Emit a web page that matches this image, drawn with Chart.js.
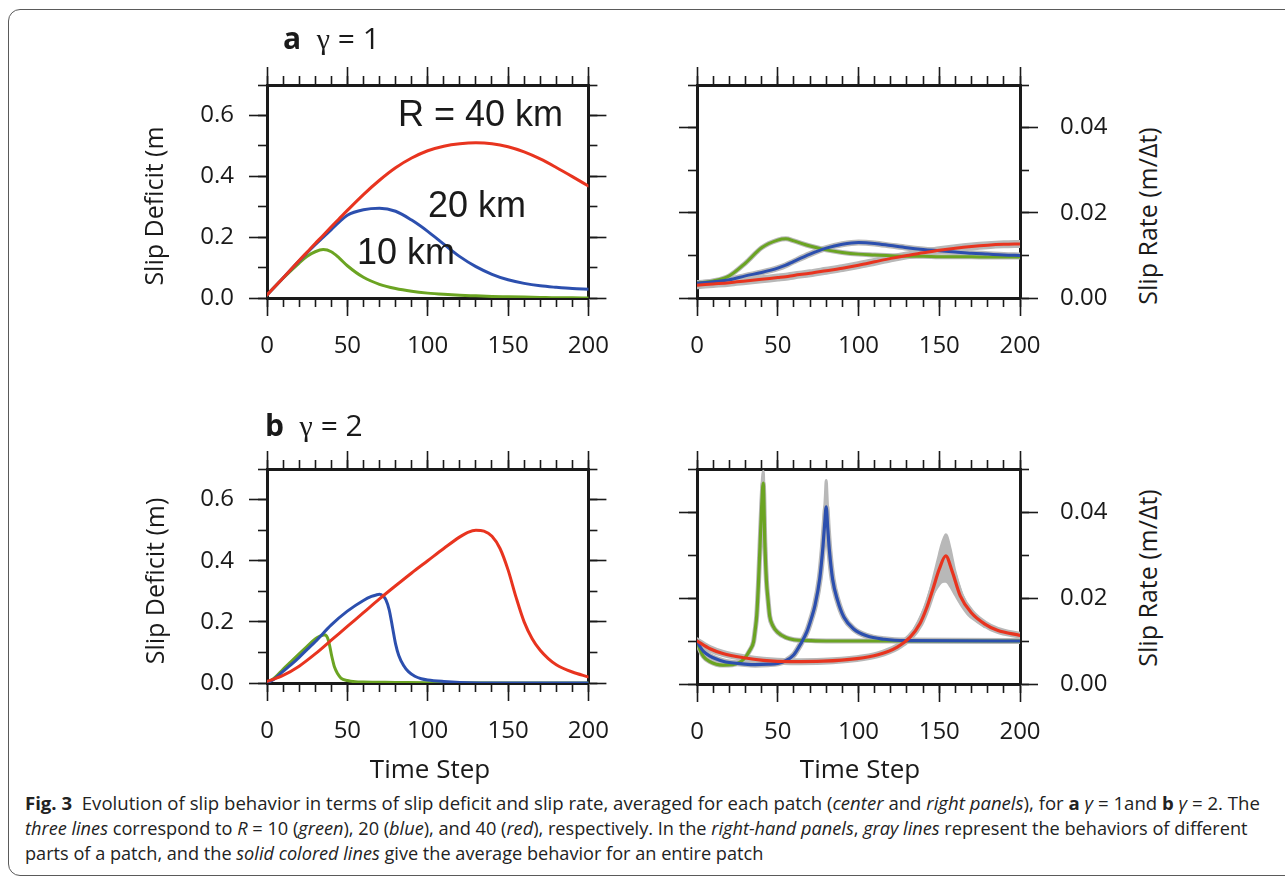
<!DOCTYPE html>
<html lang="en">
<head>
<meta charset="utf-8">
<title>Fig. 3 – slip deficit and slip rate</title>
<script src="https://cdn.jsdelivr.net/npm/chart.js@4.4.1/dist/chart.umd.min.js"></script>
<style>
  html, body { margin: 0; padding: 0; background: #fff; }
  body {
    position: relative; width: 1285px; height: 879px; overflow: hidden;
    font-family: "Open Sans", "DejaVu Sans", sans-serif; color: #1a1a1a;
  }
  .frame {
    position: absolute; left: 8px; top: 9px; width: 1320px; height: 867px;
    border: 1.5px solid #5a5a5a; border-radius: 12px; box-sizing: border-box;
  }
  canvas { position: absolute; }
  .t { position: absolute; white-space: nowrap; line-height: 1; }
  .mid { transform: translate(-50%, -50%); }
  .vert { transform: translate(-50%, -50%) rotate(-90deg); }
  .panel-title { font-size: 30px; }
  .greek { font-family: "Liberation Serif", "DejaVu Serif", serif; }
  .radius { font-family: "Liberation Sans", Arial, sans-serif; font-size: 36px; }
  .axis-title { font-size: 25px; }
  .caption {
    position: absolute; left: 25px; font-size: 17.5px; line-height: 1;
    white-space: nowrap; transform-origin: 0 50%; color: #222;
  }
</style>
</head>
<body>
<div class="frame"></div>

<canvas id="deficit-a" width="475" height="325" style="left:150px;top:45px"></canvas>
<canvas id="rate-a" width="465" height="325" style="left:660px;top:45px"></canvas>
<canvas id="deficit-b" width="475" height="326" style="left:150px;top:429px"></canvas>
<canvas id="rate-b" width="465" height="326" style="left:660px;top:429px"></canvas>

<!-- panel headings -->
<div class="t panel-title" style="left:283px;top:23px"><b>a</b>&nbsp;&nbsp;<span class="greek">γ</span> = 1</div>
<div class="t panel-title" style="left:265px;top:410px"><b>b</b>&nbsp;&nbsp;<span class="greek">γ</span> = 2</div>

<!-- patch size labels -->
<div class="t radius" style="left:398px;top:96px">R = 40 km</div>
<div class="t radius" style="left:428px;top:187px">20 km</div>
<div class="t radius" style="left:357px;top:234px">10 km</div>

<!-- axis titles -->
<div class="t axis-title vert" style="left:153px;top:206px">Slip Deficit (m</div>
<div class="t axis-title vert" style="left:154px;top:581px">Slip Deficit (m)</div>
<div class="t axis-title vert" style="left:1147px;top:216px">Slip Rate (m/Δt)</div>
<div class="t axis-title vert" style="left:1147px;top:578px">Slip Rate (m/Δt)</div>
<div class="t axis-title mid" style="left:430px;top:768px;font-size:26px">Time Step</div>
<div class="t axis-title mid" style="left:860px;top:768px;font-size:26px">Time Step</div>

<!-- caption -->
<div class="caption" data-width="1235" style="top:795px"><b>Fig. 3</b>&nbsp; Evolution of slip behavior in terms of slip deficit and slip rate, averaged for each patch (<i>center</i> and <i>right panels</i>), for <b>a</b> <i>γ</i> = 1and <b>b</b> <i>γ</i> = 2. The</div>
<div class="caption" data-width="1223" style="top:820px"><i>three lines</i> correspond to <i>R</i> = 10 (<i>green</i>), 20 (<i>blue</i>), and 40 (<i>red</i>), respectively. In the <i>right-hand panels</i>, <i>gray lines</i> represent the behaviors of different</div>
<div class="caption" data-width="738" style="top:845px">parts of a patch, and the <i>solid colored lines</i> give the average behavior for an entire patch</div>

<script>
// ---- data: time steps and averaged patch values ----

// a: gamma = 1, slip deficit (m)
const stepsA = [0, 10, 20, 25, 30, 35, 40, 45, 50, 60, 70, 80, 90, 100, 110, 120, 130, 140, 150, 160, 170, 180, 190, 200];
const deficitA10 = [0.010, 0.065, 0.115, 0.137, 0.152, 0.159, 0.152, 0.131, 0.106, 0.068, 0.045, 0.031, 0.022, 0.016, 0.012, 0.009, 0.007, 0.005, 0.004, 0.003, 0.002, 0.001, 0.001, 0.000];
const deficitA20 = [0.010, 0.066, 0.122, 0.149, 0.175, 0.200, 0.225, 0.250, 0.272, 0.290, 0.295, 0.285, 0.256, 0.219, 0.177, 0.136, 0.103, 0.078, 0.060, 0.048, 0.040, 0.035, 0.031, 0.029];
const deficitA40 = [0.010, 0.066, 0.123, 0.151, 0.179, 0.206, 0.234, 0.261, 0.288, 0.340, 0.387, 0.428, 0.460, 0.484, 0.499, 0.507, 0.510, 0.507, 0.497, 0.480, 0.457, 0.429, 0.399, 0.368];

// a: gamma = 1, slip rate (m/dt)
const stepsRateA = [0, 10, 20, 30, 40, 50, 55, 60, 70, 80, 90, 100, 110, 120, 130, 140, 150, 160, 170, 180, 190, 200];
const rateA10 = [0.0035, 0.0040, 0.0052, 0.0082, 0.0118, 0.0136, 0.0139, 0.0134, 0.0122, 0.0113, 0.0107, 0.0103, 0.0101, 0.0099, 0.0098, 0.0098, 0.0097, 0.0097, 0.0097, 0.0096, 0.0096, 0.0096];
const rateA20 = [0.0035, 0.0038, 0.0043, 0.0052, 0.0060, 0.0070, 0.0077, 0.0086, 0.0103, 0.0117, 0.0126, 0.0130, 0.0128, 0.0123, 0.0118, 0.0114, 0.0111, 0.0108, 0.0105, 0.0103, 0.0101, 0.0100];
const rateA40 = [0.0030, 0.0033, 0.0036, 0.0040, 0.0044, 0.0048, 0.0050, 0.0053, 0.0058, 0.0064, 0.0070, 0.0077, 0.0085, 0.0093, 0.0100, 0.0106, 0.0112, 0.0117, 0.0121, 0.0124, 0.0126, 0.0127];

// b: gamma = 2, slip deficit (m)
const stepsB10 = [0, 5, 10, 15, 20, 25, 30, 33, 35, 36, 37, 38, 39, 40, 41, 42, 44, 46, 50, 55, 60, 80, 100, 150, 200];
const deficitB10 = [0, 0.018, 0.045, 0.070, 0.095, 0.120, 0.144, 0.153, 0.157, 0.158, 0.154, 0.143, 0.122, 0.095, 0.072, 0.052, 0.030, 0.016, 0.008, 0.004, 0.003, 0.002, 0.001, 0, 0];
const stepsB20 = [0, 5, 10, 15, 20, 25, 30, 40, 50, 60, 65, 68, 70, 72, 74, 76, 78, 80, 82, 85, 88, 92, 96, 100, 110, 120, 150, 200];
const deficitB20 = [0, 0.015, 0.038, 0.060, 0.084, 0.110, 0.135, 0.190, 0.235, 0.270, 0.283, 0.288, 0.290, 0.286, 0.272, 0.240, 0.185, 0.128, 0.090, 0.057, 0.037, 0.022, 0.014, 0.010, 0.005, 0.002, 0, 0];
const stepsB40 = [0, 10, 20, 30, 40, 50, 60, 70, 80, 90, 100, 110, 120, 125, 130, 135, 140, 145, 150, 155, 160, 165, 170, 175, 180, 190, 200];
const deficitB40 = [0.005, 0.025, 0.055, 0.095, 0.140, 0.185, 0.230, 0.275, 0.318, 0.360, 0.400, 0.440, 0.478, 0.493, 0.500, 0.497, 0.480, 0.440, 0.370, 0.280, 0.200, 0.145, 0.107, 0.080, 0.060, 0.036, 0.020];

// b: gamma = 2, slip rate (m/dt)
const stepsRateB10 = [0, 2, 4, 8, 12, 16, 22, 29, 33, 35, 36, 37, 38, 39, 40, 41, 42, 43, 44, 45, 47, 50, 55, 60, 70, 80, 120, 200];
const rateB10 = [0.0100, 0.0078, 0.0064, 0.0052, 0.0046, 0.0044, 0.0045, 0.0058, 0.0080, 0.0098, 0.0125, 0.0160, 0.0230, 0.0320, 0.0410, 0.0467, 0.0330, 0.0240, 0.0195, 0.0158, 0.0135, 0.0120, 0.0108, 0.0103, 0.0101, 0.0100, 0.0100, 0.0100];
const stepsRateB20 = [0, 2, 4, 8, 12, 16, 20, 28, 36, 44, 50, 55, 60, 64, 68, 71, 73, 76, 78, 79, 80, 81, 82, 84, 87, 91, 97, 105, 116, 130, 200];
const rateB20 = [0.0100, 0.0086, 0.0076, 0.0065, 0.0058, 0.0053, 0.0050, 0.0047, 0.0045, 0.0046, 0.0048, 0.0054, 0.0068, 0.0092, 0.0121, 0.0155, 0.0182, 0.0245, 0.0320, 0.0370, 0.0412, 0.0360, 0.0310, 0.0243, 0.0195, 0.0155, 0.0128, 0.0112, 0.0104, 0.0101, 0.0100];
const stepsRateB40 = [0, 8, 16, 29, 41, 58, 78, 99, 112, 124, 132, 138, 142, 146, 150, 154, 158, 163, 170, 178, 186, 200];
const rateB40 = [0.0100, 0.0082, 0.0071, 0.0061, 0.0055, 0.0052, 0.0053, 0.0059, 0.0068, 0.0086, 0.0109, 0.0140, 0.0175, 0.0220, 0.0267, 0.0298, 0.0262, 0.0205, 0.0165, 0.0140, 0.0125, 0.0113];

// b: spread of the individual parts of each patch around the slip-rate peaks
const graySteps10 = [37, 38.5, 40, 41, 42, 43.5];
const grayPeak10 = [0.016, 0.028, 0.044, 0.0495, 0.036, 0.022];
const graySteps20 = [77, 78.5, 79.5, 80, 80.5, 81.5, 83];
const grayPeak20 = [0.029, 0.037, 0.044, 0.0473, 0.044, 0.035, 0.027];
const graySteps40 = [134, 138, 142, 146, 149, 151, 153, 154, 155, 157, 160, 164, 168, 172, 178];
const grayHigh40 = [0.0125, 0.0155, 0.0190, 0.0245, 0.0290, 0.0320, 0.0342, 0.0348, 0.0344, 0.0315, 0.0262, 0.0212, 0.0180, 0.0160, 0.0140];
const grayLow40 = [0.0115, 0.0135, 0.0165, 0.0205, 0.0225, 0.0235, 0.0238, 0.0238, 0.0236, 0.0225, 0.0205, 0.0180, 0.0160, 0.0148, 0.0132];

// ---- axes ----
const stepTicks = [0, 50, 100, 150, 200];
const stepMinorTicks = [0, 10, 20, 30, 40, 50, 60, 70, 80, 90, 100, 110, 120, 130, 140, 150, 160, 170, 180, 190, 200];
const deficitTicks = [0, 0.2, 0.4, 0.6];
const deficitMinorTicks = [0, 0.1, 0.2, 0.3, 0.4, 0.5, 0.6, 0.7];
const rateTicks = [0, 0.02, 0.04];
const rateMinorTicks = [0, 0.01, 0.02, 0.03, 0.04, 0.05];

const INK = '#1a1a1a';
const RED = '#e8341f';
const BLUE = '#2c4fae';
const GREEN = '#6ba422';
const GRAY = '#b8b8b8';
const FONT = '"Open Sans", "DejaVu Sans", sans-serif';

Chart.defaults.font.family = FONT;

// canvas rect and plot-frame rect, page pixels
const layout = {
  'deficit-a': { canvas: [150, 45, 625, 370], box: [267, 85, 590, 298] },
  'rate-a':    { canvas: [660, 45, 1125, 370], box: [697, 85, 1020, 298] },
  'deficit-b': { canvas: [150, 429, 625, 755], box: [267, 469, 590, 683] },
  'rate-b':    { canvas: [660, 429, 1125, 755], box: [697, 469, 1020, 684] },
};

const pts = (xs, ys) => xs.map((x, i) => ({ x, y: ys[i] }));

// One axis of the box frame. Major axes sit outside the minor ones (weight),
// so both sets of tick marks start at the frame line.
function frameAxis(axis, position, max, values, tickLen, size, weight, labels) {
  return {
    type: 'linear', axis, position, min: 0, max, weight,
    grid: { display: true, drawOnChartArea: false, drawTicks: true, tickLength: tickLen, tickColor: INK, tickWidth: 1.6 },
    border: { display: weight > 0, color: INK, width: 3 },
    ticks: labels
      ? { display: true, autoSkip: false, maxRotation: 0, padding: labels.padding, color: INK,
          font: { family: FONT, size: 24 }, callback: v => v.toFixed(labels.decimals) }
      : { display: false },
    afterBuildTicks: scale => { scale.ticks = values.map(v => ({ value: v })); },
    afterFit: scale => { if (axis === 'x') scale.height = size; else scale.width = size; },
  };
}

function frameScales(id, y) {
  const { canvas: c, box: b } = layout[id];
  const m = { l: b[0] - c[0], t: b[1] - c[1], r: c[2] - b[2], b: c[3] - b[3] };
  return {
    x: frameAxis('x', 'bottom', 200, stepTicks, 18, m.b, 1, { padding: 16, decimals: 0 }),
    xMinor: frameAxis('x', 'bottom', 200, stepMinorTicks, 9, 0, 0, null),
    xTop: frameAxis('x', 'top', 200, stepTicks, 18, m.t, 1, null),
    xTopMinor: frameAxis('x', 'top', 200, stepMinorTicks, 9, 0, 0, null),
    y: frameAxis('y', 'left', y.max, y.ticks, 18, m.l, 1,
      y.side === 'left' ? { padding: 15, decimals: y.decimals } : null),
    yMinor: frameAxis('y', 'left', y.max, y.minor, 9, 0, 0, null),
    yRight: frameAxis('y', 'right', y.max, y.ticks, 18, m.r, 1,
      y.side === 'right' ? { padding: 22, decimals: y.decimals } : null),
    yRightMinor: frameAxis('y', 'right', y.max, y.minor, 9, 0, 0, null),
  };
}

function line(data, color, width, order, extra) {
  return Object.assign({
    data, borderColor: color, backgroundColor: color, borderWidth: width, order,
    xAxisID: 'x', yAxisID: 'y', pointRadius: 0, fill: false,
    cubicInterpolationMode: 'monotone', borderCapStyle: 'round', borderJoinStyle: 'round',
  }, extra || {});
}

function draw(id, datasets, y) {
  new Chart(document.getElementById(id), {
    type: 'line',
    data: { datasets },
    options: {
      responsive: false, animation: false, devicePixelRatio: 1,
      layout: { padding: 0 },
      plugins: { legend: { display: false }, tooltip: { enabled: false } },
      scales: frameScales(id, y),
    },
  });
}

const deficitAxis = { max: 0.7, ticks: deficitTicks, minor: deficitMinorTicks, decimals: 1, side: 'left' };
const rateAxis = { max: 0.05, ticks: rateTicks, minor: rateMinorTicks, decimals: 2, side: 'right' };

// a, slip deficit
draw('deficit-a', [
  line(pts(stepsA, deficitA40), RED, 3, 1),
  line(pts(stepsA, deficitA20), BLUE, 3, 2),
  line(pts(stepsA, deficitA10), GREEN, 3, 3),
], deficitAxis);

// a, slip rate: gray spread under each average line
draw('rate-a', [
  line(pts(stepsRateA, rateA40), RED, 3, 1),
  line(pts(stepsRateA, rateA20), BLUE, 3, 2),
  line(pts(stepsRateA, rateA10), GREEN, 3, 3),
  line(pts(stepsRateA, rateA40), GRAY, 8, 4),
  line(pts(stepsRateA, rateA20), GRAY, 6, 5),
  line(pts(stepsRateA, rateA10), GRAY, 5, 6),
], rateAxis);

// b, slip deficit
draw('deficit-b', [
  line(pts(stepsB40, deficitB40), RED, 3, 1),
  line(pts(stepsB20, deficitB20), BLUE, 3, 2),
  line(pts(stepsB10, deficitB10), GREEN, 3, 3),
], deficitAxis);

// b, slip rate
draw('rate-b', [
  line(pts(stepsRateB40, rateB40), RED, 3.2, 1),
  line(pts(stepsRateB20, rateB20), BLUE, 3.2, 2),
  line(pts(stepsRateB10, rateB10), GREEN, 3.2, 3),
  line(pts(graySteps40, grayHigh40), GRAY, 2, 4, { fill: '+1', backgroundColor: GRAY }),
  line(pts(graySteps40, grayLow40), GRAY, 2, 5),
  line(pts(graySteps20, grayPeak20), GRAY, 3, 6),
  line(pts(graySteps10, grayPeak10), GRAY, 3, 7),
  line(pts(stepsRateB40, rateB40), GRAY, 7, 8),
  line(pts(stepsRateB20, rateB20), GRAY, 6, 9),
  line(pts(stepsRateB10, rateB10), GRAY, 5, 10),
], rateAxis);

// caption lines are set to the column width
document.querySelectorAll('.caption').forEach(el => {
  const want = Number(el.dataset.width);
  el.style.transform = 'scaleX(' + (want / el.offsetWidth) + ')';
});
</script>
</body>
</html>
